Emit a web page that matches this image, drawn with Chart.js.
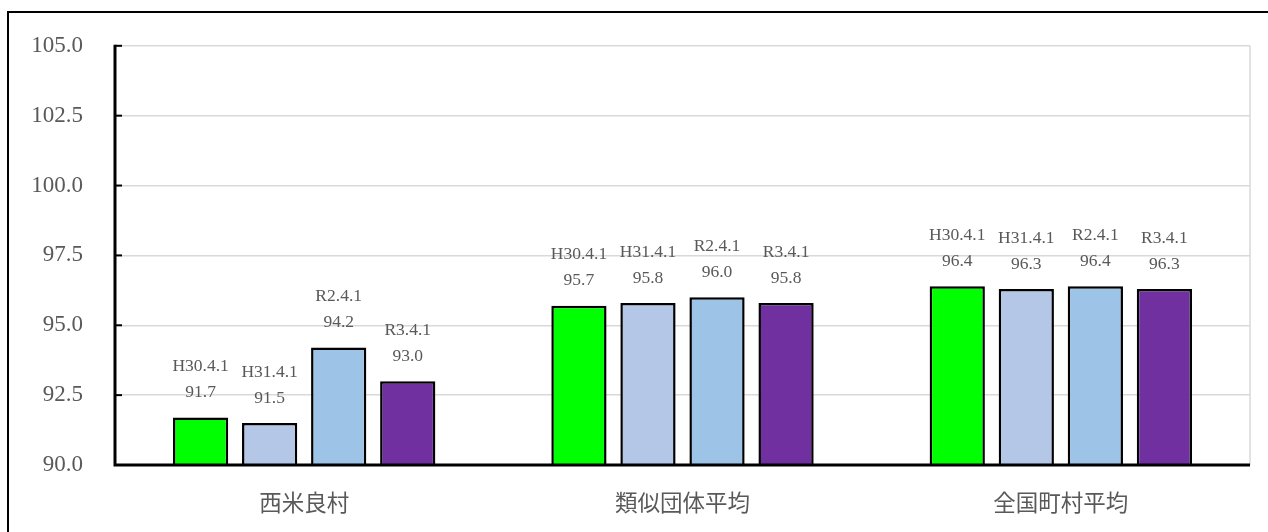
<!DOCTYPE html>
<html>
<head>
<meta charset="utf-8">
<script src="https://cdn.jsdelivr.net/npm/chart.js@4"></script>
<style>
  html, body { margin: 0; padding: 0; background: #fff; }
  #wrap { position: relative; width: 1268px; height: 532px; overflow: hidden; }
  #frame { position: absolute; left: 7px; top: 11px; width: 1400px; height: 700px; border: 2px solid #000; box-sizing: border-box; pointer-events: none; }
  canvas { position: absolute; left: 0; top: 0; }
</style>
</head>
<body>
<div id="wrap">
  <canvas id="c" width="1268" height="532"></canvas>
  <div id="frame"></div>
</div>
<script>
const categories = ["西米良村", "類似団体平均", "全国町村平均"];
const seriesNames = ["H30.4.1", "H31.4.1", "R2.4.1", "R3.4.1"];
const valuesH30 = [91.7, 95.7, 96.4];
const valuesH31 = [91.5, 95.8, 96.3];
const valuesR2 = [94.2, 96.0, 96.4];
const valuesR3 = [93.0, 95.8, 96.3];
const seriesColors = ["#00FF00", "#B4C7E7", "#9DC3E6", "#7030A0"];
const yMin = 90, yMax = 105, yStep = 2.5;

const FONT = '"Liberation Serif", "Noto Sans CJK JP", serif';
const GRAY = '#595959';

const allValues = [valuesH30, valuesH31, valuesR2, valuesR3];

const frameGrid = {
  id: 'frameGrid',
  beforeDatasetsDraw(chart) {
    const { ctx, chartArea: a } = chart;
    ctx.save();
    ctx.strokeStyle = '#D9D9D9';
    ctx.lineWidth = 1.5;
    ctx.beginPath();
    ctx.moveTo(a.right, a.top);
    ctx.lineTo(a.right, a.bottom);
    ctx.stroke();
    ctx.restore();
  },
  afterDatasetsDraw(chart) {
    const { ctx, chartArea: a } = chart;
    const y = chart.scales.y;
    ctx.save();
    ctx.strokeStyle = '#000';
    ctx.lineWidth = 3;
    ctx.beginPath();
    ctx.moveTo(a.left, a.top - 1);
    ctx.lineTo(a.left, a.bottom);
    ctx.lineTo(a.right, a.bottom);
    ctx.stroke();
    ctx.lineWidth = 2;
    for (let v = yMin; v <= yMax + 0.001; v += yStep) {
      const py = y.getPixelForValue(v);
      ctx.beginPath();
      ctx.moveTo(a.left, py);
      ctx.lineTo(a.left + 7, py);
      ctx.stroke();
    }
    ctx.fillStyle = GRAY;
    ctx.font = '17.5px ' + FONT;
    ctx.textAlign = 'center';
    ctx.textBaseline = 'middle';
    chart.data.datasets.forEach((ds, di) => {
      const meta = chart.getDatasetMeta(di);
      meta.data.forEach((bar, i) => {
        const v = ds.data[i];
        ctx.fillText(v.toFixed(1), bar.x, bar.y - 25);
        ctx.fillText(ds.label, bar.x, bar.y - 51);
      });
    });
    ctx.restore();
  }
};

new Chart(document.getElementById('c'), {
  type: 'bar',
  data: {
    labels: categories,
    datasets: seriesNames.map((name, i) => ({
      label: name,
      data: allValues[i],
      backgroundColor: seriesColors[i],
      borderColor: '#000',
      borderWidth: 2.5,
      borderSkipped: false,
      barPercentage: 0.8,
      categoryPercentage: 0.73
    }))
  },
  options: {
    responsive: false,
    animation: false,
    devicePixelRatio: 1,
    layout: { padding: { left: 0, right: 18, top: 42, bottom: 0 } },
    plugins: { legend: { display: false }, tooltip: { enabled: false } },
    scales: {
      x: {
        grid: { display: false, drawTicks: false },
        border: { display: false },
        ticks: { color: GRAY, font: { family: FONT, size: 22.5 }, padding: 27 },
        afterFit(s) { s.height = 532 - 465; }
      },
      y: {
        min: yMin, max: yMax,
        grid: { color: '#D9D9D9', lineWidth: 1.5, drawTicks: false },
        border: { display: false },
        ticks: {
          stepSize: yStep,
          color: GRAY,
          font: { family: FONT, size: 23 },
          padding: 32,
          callback: v => Number(v).toFixed(1)
        },
        afterFit(s) { s.width = 115; }
      }
    }
  },
  plugins: [frameGrid]
});
</script>
</body>
</html>
